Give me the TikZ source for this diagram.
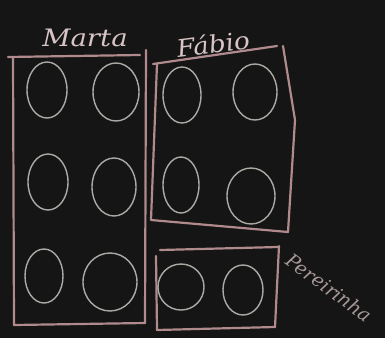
\documentclass[tikz,border=0pt]{standalone}
\usepackage{fontspec}
\setmainfont{DejaVu Serif}
\definecolor{board}{HTML}{151515}
\definecolor{boxc}{HTML}{B08A8C}
\definecolor{ovalc}{HTML}{ABABA6}
\definecolor{chalk}{HTML}{D8C4C4}
\begin{document}
\begin{tikzpicture}[x=1pt,y=-1pt,
  boxline/.style={draw=boxc,line width=2.2pt,line cap=round,line join=round},
  egg/.style={draw=ovalc,line width=1.4pt},
  lab/.style={text=chalk,font=\itshape\fontsize{24}{24}\selectfont}]
\fill[board] (0,0) rectangle (385,338);
\begin{scope}
\clip (0,0) rectangle (385,338);
% labels
\node[lab,xscale=1.15] (marta) at (85,38) {Marta};
\node[lab,xscale=1.1,rotate=8] (fabio) at (213,44) {Fábio};
\node[lab,font=\itshape\fontsize{19}{19}\selectfont,rotate=-36,anchor=west,text=chalk!75!board,inner sep=0pt] (pereira) at (288,258) {Pereirinha};
% Marta box
\draw[boxline] (8,57) -- (140,55);
\draw[boxline] (13,58) -- (14,325) -- (145,323);
\draw[boxline] (146,50) -- (145,323);
% Fabio box
\draw[boxline] (153,64) -- (277,46);
\draw[boxline] (157,64) -- (151,220) -- (288,232);
\draw[boxline] (283,46) -- (295,120) -- (288,232);
% Pereira box
\draw[boxline] (160,250) -- (278,247);
\draw[boxline] (156,256) -- (157,330) -- (275,327);
\draw[boxline] (279,246) -- (275,327);
% Marta eggs
\draw[egg] (47,90) ellipse (20 and 28);
\draw[egg] (116,92) ellipse (23 and 29);
\draw[egg] (48,182) ellipse (20 and 28);
\draw[egg] (114,187) ellipse (22 and 29);
\draw[egg] (44,276) ellipse (19 and 27);
\draw[egg] (110,282) ellipse (27 and 29);
% Fabio eggs
\draw[egg] (182,95) ellipse (19 and 28);
\draw[egg] (255,92) ellipse (22 and 28);
\draw[egg] (181,185) ellipse (18 and 28);
\draw[egg] (251,196) ellipse (24 and 28);
% Pereira eggs
\draw[egg] (181,287) ellipse (23 and 23);
\draw[egg] (243,290) ellipse (20 and 25);
\end{scope}
\end{tikzpicture}
\end{document}
